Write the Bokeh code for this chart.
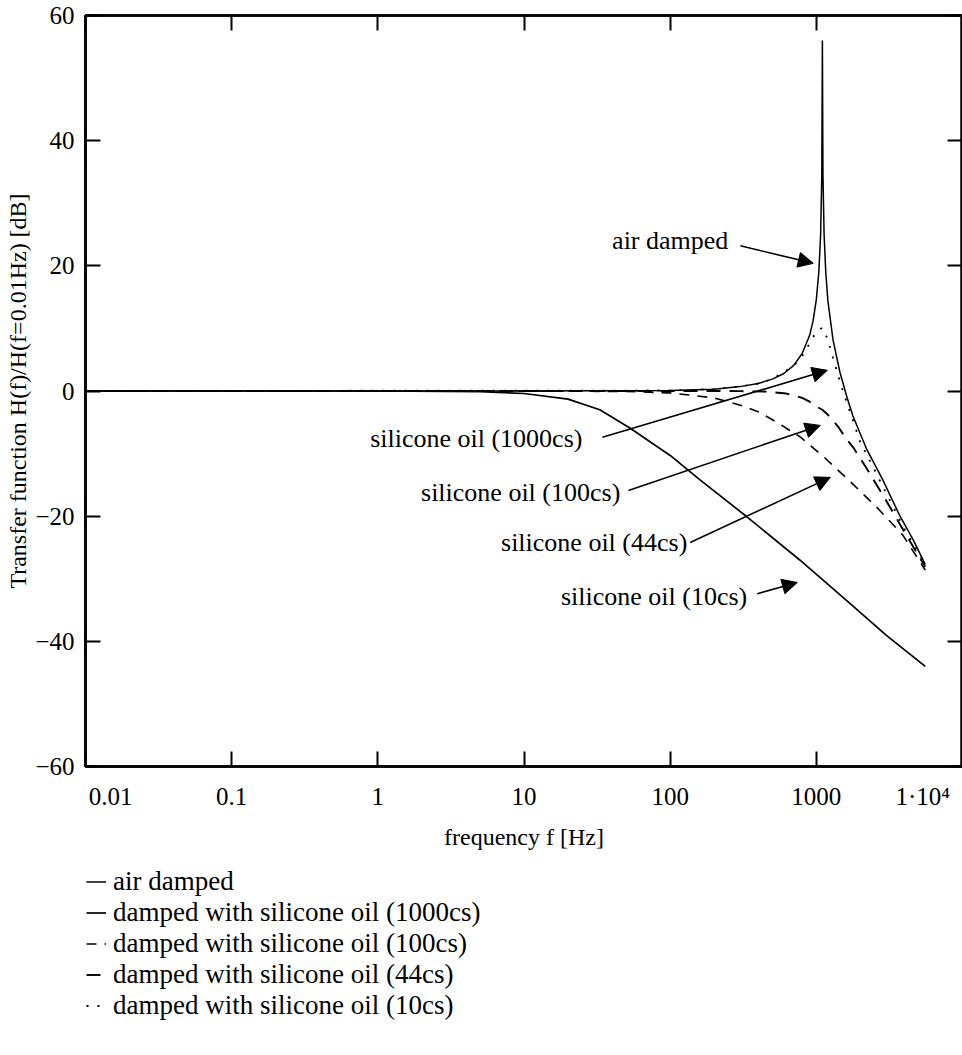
from bokeh.plotting import figure
from bokeh.layouts import column
from bokeh.models import (Range1d, FixedTicker, LogAxis, LinearAxis, Arrow, NormalHead,
                          LabelSet, ColumnDataSource, Legend, LegendItem)
from bokeh.embed import file_html
from bokeh.resources import INLINE

FONT = "Liberation Serif"
FS = "\u2007"  # figure space, used to push the edge tick labels inward

# ---------------- data ----------------
x_ticks = [0.01, 0.1, 1, 10, 100, 1000, 10000]
x_tick_labels = [FS * 4 + "0.01", "0.1", "1", "10", "100", "1000", "1\u00b710\u2074" + FS]
y_ticks = [-60, -40, -20, 0, 20, 40, 60]
y_tick_labels = ["\u221260", "\u221240", "\u221220", "0", "20", "40", "60"]

air_f = [0.01, 1, 10, 100, 200, 300, 400, 500, 600, 700, 800, 900, 950, 1000, 1040,
         1070, 1090, 1100, 1110, 1130, 1160, 1200, 1300, 1450, 1620, 1780, 2200, 2850,
         3700, 4600, 5560]
air_db = [0, 0, 0, 0.07, 0.28, 0.7, 1.2, 1.9, 2.8, 4.1, 6.0, 8.9, 11.2, 14.6, 19.0,
          25.0, 34.5, 56.0, 34.5, 25.0, 19.0, 14.4, 8.2, 3.0, -1.0, -4.0, -9.2, -14.2,
          -19.8, -23.8, -27.7]

oil1000_f = [0.01, 1, 5, 10, 20, 33, 53, 100, 160, 335, 770, 1600, 3000, 5560]
oil1000_db = [0, 0, -0.1, -0.4, -1.3, -3.0, -5.9, -10.3, -14.2, -20.1, -27.0, -33.4,
              -39.0, -44.0]

oil100_f = [0.01, 10, 50, 100, 200, 315, 400, 537, 771, 1109, 1695, 2594, 3899, 5560]
oil100_db = [0, 0, -0.08, -0.3, -1.1, -2.4, -3.3, -5.0, -7.3, -10.4, -14.4, -18.6,
             -23.0, -28.6]

oil44_f = [0.01, 100, 200, 300, 450, 600, 700, 800, 900, 1000, 1100, 1200, 1400, 1620,
           1800, 2200, 3000, 4000, 5560]
oil44_db = [0, 0, 0, -0.02, -0.1, -0.35, -0.66, -1.1, -1.7, -2.5, -3.0, -3.8, -5.6,
            -7.8, -9.1, -12.3, -17.5, -22.5, -28.1]

oil10_f = [0.01, 100, 200, 300, 400, 500, 700, 800, 900, 1000, 1100, 1200, 1300, 1500,
           2000, 2500, 3000, 4000, 5560]
oil10_db = [0, 0.08, 0.3, 0.7, 1.2, 1.9, 4.0, 5.6, 7.6, 9.5, 10.1, 8.2, 5.3, 0.4,
            -8.2, -12.6, -16.3, -22.0, -27.8]

legend_labels = ["air damped",
                 "damped with silicone oil (1000cs)",
                 "damped with silicone oil (100cs)",
                 "damped with silicone oil (44cs)",
                 "damped with silicone oil (10cs)"]

note_texts = ["air damped", "silicone oil (1000cs)", "silicone oil (100cs)",
              "silicone oil (44cs)", "silicone oil (10cs)"]
note_x = [250, 25.1, 45.6, 131, 337]
note_y = [24.0, -7.6, -16.2, -24.2, -32.8]
arrow_x0 = [302, 34.4, 51.8, 137, 394]
arrow_y0 = [23.2, -7.4, -15.9, -24.2, -32.4]
arrow_x1 = [953, 1189, 1064, 1247, 741]
arrow_y1 = [20.4, 3.3, -5.5, -13.8, -30.6]

# line styles: (width, dash)
styles = [(1.5, "solid"), (1.7, "solid"), (1.6, "10 8"), (1.9, "14 9"), (1.8, "2 9")]
series = [(air_f, air_db), (oil1000_f, oil1000_db), (oil100_f, oil100_db),
          (oil44_f, oil44_db), (oil10_f, oil10_db)]

# ---------------- main figure ----------------
p = figure(frame_width=877, frame_height=751, x_axis_type="log",
           x_range=Range1d(0.01, 10000), y_range=Range1d(-60, 60),
           output_backend="svg", toolbar_location=None,
           min_border_left=85, min_border_top=15, min_border_right=0, min_border_bottom=100,
           background_fill_color="white", border_fill_color="white")
p.grid.visible = False
p.outline_line_color = "black"
p.outline_line_width = 2.5


def style(ax, size="25px"):
    ax.axis_line_width = 2.5
    ax.axis_line_color = "black"
    ax.major_tick_in = 15
    ax.major_tick_out = 0
    ax.major_tick_line_width = 2
    ax.major_tick_line_color = "black"
    ax.minor_tick_in = 0
    ax.minor_tick_out = 0
    ax.major_label_text_font = FONT
    ax.major_label_text_font_size = size
    ax.major_label_text_color = "black"
    ax.axis_label_text_font = FONT
    ax.axis_label_text_font_style = "normal"
    ax.axis_label_text_font_size = "24px"
    ax.axis_label_text_color = "black"


xa = p.xaxis[0]
style(xa)
xa.ticker = FixedTicker(ticks=x_ticks)
xa.major_label_overrides = dict(zip(x_ticks, x_tick_labels))
xa.major_label_standoff = 16
xa.axis_label = "frequency f [Hz]"
xa.axis_label_standoff = 11

ya = p.yaxis[0]
style(ya)
ya.ticker = FixedTicker(ticks=y_ticks)
ya.major_label_overrides = dict(zip(y_ticks, y_tick_labels))
ya.major_label_standoff = 11
ya.axis_label = "Transfer function H(f)/H(f=0.01Hz) [dB]"
ya.axis_label_standoff = 1

top = LogAxis(ticker=FixedTicker(ticks=x_ticks),
              major_label_overrides={t: "" for t in x_ticks})
style(top, "0px")
top.major_label_standoff = 0
p.add_layout(top, "above")

right = LinearAxis(ticker=FixedTicker(ticks=y_ticks),
                   major_label_overrides={t: "" for t in y_ticks})
style(right, "0px")
right.major_label_standoff = 0
p.add_layout(right, "right")

# ---------------- curves ----------------
for (fx, dby), (lw, dash) in zip(series, styles):
    p.line(fx, dby, line_color="black", line_width=lw, line_dash=dash)

# ---------------- annotations ----------------
arrows = ColumnDataSource(dict(x0=arrow_x0, y0=arrow_y0, x1=arrow_x1, y1=arrow_y1))
p.add_layout(Arrow(x_start="x0", y_start="y0", x_end="x1", y_end="y1", source=arrows,
                   line_color="black", line_width=1.6,
                   end=NormalHead(size=15, fill_color="black", line_color="black")))

notes = ColumnDataSource(dict(x=note_x, y=note_y, t=note_texts))
p.add_layout(LabelSet(x="x", y="y", text="t", source=notes, text_align="right",
                      text_baseline="middle", text_font=FONT, text_font_size="26px",
                      text_color="black"))

# ---------------- legend (own strip below the plot) ----------------
LEG_H = 170
ROW = 31
q = figure(width=962, height=LEG_H, x_range=Range1d(-2, -1), y_range=Range1d(100, 101),
           output_backend="svg", toolbar_location=None,
           x_axis_location=None, y_axis_location=None, min_border=0,
           background_fill_color="white", border_fill_color="white")
q.grid.visible = False
q.outline_line_color = None
items = []
for lab, (fx, dby), (lw, dash) in zip(legend_labels, series, styles):
    # same series, drawn outside this strip's ranges: only the legend sample shows
    r = q.line(fx, dby, line_color="black", line_width=lw, line_dash=dash)
    items.append(LegendItem(label=lab, renderers=[r]))
legend = Legend(items=items, location=(1, LEG_H - 5 * ROW), orientation="vertical",
                border_line_alpha=0, background_fill_alpha=0,
                label_text_font=FONT, label_text_font_size="27px", label_text_color="black",
                glyph_width=20, glyph_height=ROW, label_height=ROW, label_standoff=7,
                spacing=0, padding=0, margin=0)
q.add_layout(legend)

open("out.html", "w").write(file_html(column(p, q, spacing=0), INLINE))
